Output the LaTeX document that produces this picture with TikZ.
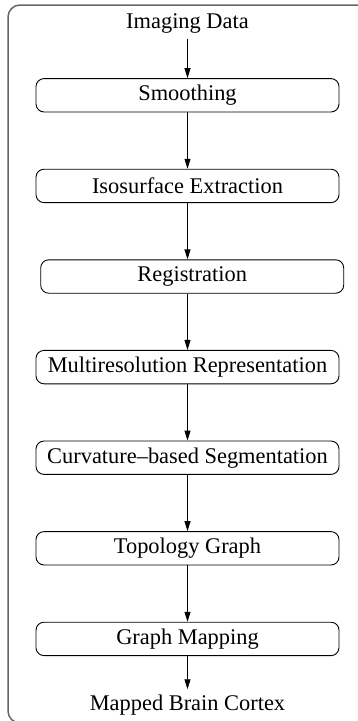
\documentclass[tikz,border=0pt]{standalone}
\usepackage{fontspec}
\setmainfont{Liberation Serif}
\usepackage{tikz}
\usetikzlibrary{arrows.meta, positioning}

\begin{document}
\begin{tikzpicture}[
  x=1pt, y=1pt,
  node distance=56.3pt,
  stage/.style={rectangle, draw, rounded corners=8pt, line width=0.9pt,
    minimum width=303pt, minimum height=33.4pt, inner sep=0pt, align=center,
    font=\fontsize{22.4}{26}\selectfont},
  label/.style={inner sep=5.5pt, font=\fontsize{22.4}{26}\selectfont},
  arrow/.style={-{Triangle[length=10pt, width=6pt]}, line width=0.9pt},
  frame/.style={draw=black!60, line width=1.5pt, rounded corners=12pt}
]
  \useasboundingbox (0,0) rectangle (358,-721);
  \clip (0,0) rectangle (358,-721);
  \draw[frame] (8,-5) rectangle (380,-723);

  \node[label, anchor=base] (img) at (187.5,-28) {Imaging Data};
  \node[stage] (sm) at (187.5,-95.3) {Smoothing};
  \node[stage, below=of sm] (iso) {Isosurface Extraction};
  \node[stage, below=of iso, xshift=4.7pt] (reg) {Registration};
  \node[stage, below=of reg, xshift=-4.7pt] (mr) {Multiresolution Representation};
  \node[stage, below=of mr] (cs) {Curvature--based Segmentation};
  \node[stage, below=of cs] (tg) {Topology Graph};
  \node[stage, below=of tg] (gm) {Graph Mapping};
  \node[label, anchor=base] (out) at (187.5,-710.5) {Mapped Brain Cortex};

  \draw[arrow] (img) -- (sm);
  \draw[arrow] (sm) -- (iso);
  \draw[arrow] (iso) -- (iso.south |- reg.north);
  \draw[arrow] (mr.north |- reg.south) -- (mr);
  \draw[arrow] (mr) -- (cs);
  \draw[arrow] (cs) -- (tg);
  \draw[arrow] (tg) -- (gm);
  \draw[arrow] (gm) -- (out);
\end{tikzpicture}
\end{document}
